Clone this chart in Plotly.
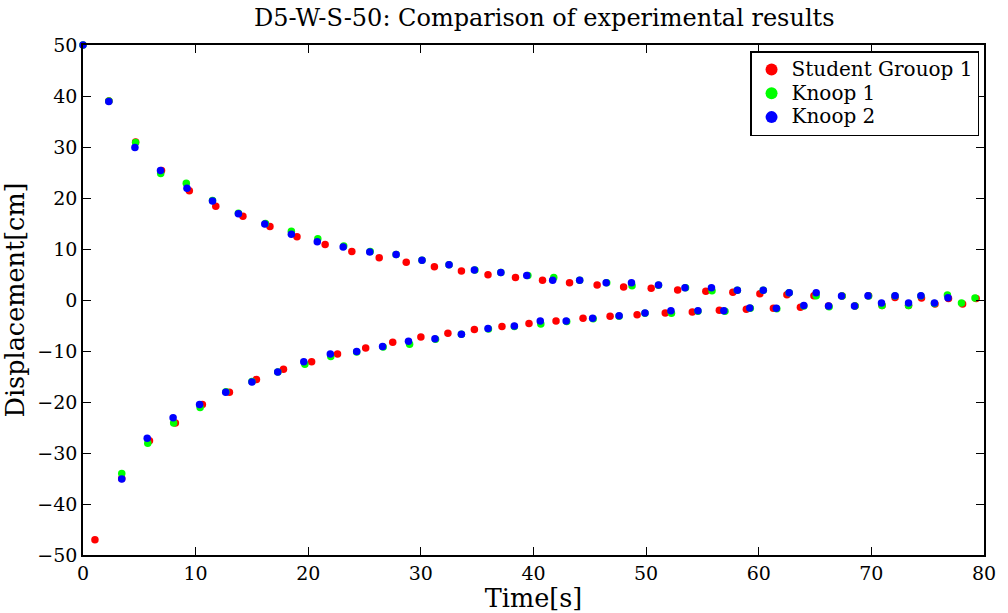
import plotly.graph_objects as go

# Student Grouop 1 (red)
red_t = [1.06, 2.3, 3.44, 4.67, 5.9, 6.97, 8.2, 9.44, 10.6, 11.79, 13.0, 14.2, 15.4, 16.6, 17.8, 19.0,
         20.3, 21.5, 22.6, 23.87, 25.1, 26.3, 27.5, 28.7, 30.0, 31.2, 32.4, 33.6, 34.75, 35.96, 37.2,
         38.4, 39.6, 40.8, 42.0, 43.2, 44.4, 45.65, 46.8, 48.0, 49.2, 50.45, 51.7, 52.8, 54.1, 55.3,
         56.5, 57.7, 58.9, 60.1, 61.3, 62.5, 63.7, 64.9, 66.2, 67.4, 68.55, 69.75, 70.95, 72.1, 73.3,
         74.45, 75.65, 76.85, 78.1, 79.3]
red_y = [-47, 39, -35, 31, -27.6, 25.4, -24.1, 21.4, -20.5, 18.4, -18.1, 16.4, -15.6, 14.4, -13.6, 12.4,
         -12.1, 10.9, -10.6, 9.5, -9.4, 8.3, -8.3, 7.4, -7.25, 6.5, -6.5, 5.7, -5.8, 4.97, -5.2,
         4.4, -4.6, 3.85, -4.1, 3.4, -3.6, 2.94, -3.2, 2.55, -2.9, 2.3, -2.55, 1.96, -2.35, 1.7,
         -2.0, 1.5, -1.8, 1.24, -1.63, 1.04, -1.43, 0.85, -1.2, 0.8, -1.2, 0.85, -1.1, 0.5, -1.1,
         0.4, -0.8, 0.3, -0.8, 0.3]

# Knoop 1 (green)
green_t = [0, 2.3, 3.44, 4.67, 5.75, 6.9, 8.05, 9.17, 10.4, 11.5, 12.7, 13.8, 15.0, 16.2, 17.3, 18.5,
           19.7, 20.85, 22.0, 23.15, 24.3, 25.5, 26.65, 27.8, 29.0, 30.1, 31.3, 32.5, 33.6, 34.8, 36.0,
           37.1, 38.3, 39.5, 40.65, 41.8, 42.95, 44.1, 45.3, 46.5, 47.6, 48.75, 49.9, 51.1, 52.25, 53.5,
           54.6, 55.85, 57.0, 58.1, 59.25, 60.4, 61.6, 62.7, 64.0, 65.1, 66.25, 67.4, 68.55, 69.75,
           70.95, 72.1, 73.3, 74.4, 75.6, 76.75, 78.0, 79.2]
green_y = [50, 39, -34, 30.9, -28.1, 24.8, -24.1, 22.9, -21.1, 19.5, -18, 17, -16, 15, -14.1, 13.5,
           -12.6, 12.0, -11.1, 10.6, -10.2, 9.5, -9.2, 8.9, -8.7, 7.8, -7.7, 6.9, -6.7, 5.9, -5.7,
           5.4, -5.2, 4.8, -4.7, 4.4, -4.2, 3.85, -3.7, 3.4, -3.2, 2.8, -2.6, 2.9, -2.6, 2.4,
           -2.2, 1.8, -2.2, 1.9, -1.6, 1.9, -1.7, 1.4, -1.2, 0.85, -1.3, 0.8, -1.2, 0.8,
           -1.1, 0.8, -1.1, 0.8, -0.7, 1.0, -0.6, 0.4]

# Knoop 2 (blue)
blue_t = [0, 2.29, 3.44, 4.61, 5.7, 6.88, 8.0, 9.23, 10.35, 11.5, 12.67, 13.8, 15.0, 16.14, 17.29, 18.5,
          19.6, 20.8, 21.96, 23.1, 24.3, 25.46, 26.6, 27.8, 28.9, 30.1, 31.25, 32.5, 33.6, 34.75, 35.96,
          37.1, 38.3, 39.4, 40.6, 41.7, 42.9, 44.1, 45.25, 46.45, 47.6, 48.7, 49.9, 51.1, 52.2, 53.45,
          54.6, 55.8, 56.9, 58.1, 59.2, 60.4, 61.56, 62.7, 64.0, 65.1, 66.2, 67.35, 68.5, 69.7,
          70.9, 72.1, 73.3, 74.4, 75.6, 76.8]
blue_y = [50, 38.9, -35.1, 29.9, -27.1, 25.4, -23.1, 21.9, -20.5, 19.4, -18.1, 16.9, -16.1, 14.9, -14.1, 12.9,
          -12.1, 11.4, -10.6, 10.4, -10.1, 9.4, -9.1, 8.9, -8.1, 7.8, -7.6, 6.9, -6.7, 5.9, -5.6,
          5.4, -5.1, 4.8, -4.1, 3.85, -4.1, 3.85, -3.6, 3.4, -3.1, 3.4, -2.55, 2.94, -2.1, 2.4,
          -2.1, 2.4, -2.1, 1.9, -1.57, 1.9, -1.63, 1.4, -1.1, 1.4, -1.2, 0.8, -1.2, 0.85,
          -0.6, 0.85, -0.6, 0.85, -0.6, 0.46]

x_ticks = [0, 10, 20, 30, 40, 50, 60, 70, 80]
y_ticks = [-50, -40, -30, -20, -10, 0, 10, 20, 30, 40, 50]

TICK_FONT = "DejaVu Serif"
TEXT_FONT = "DejaVu Serif"

fig = go.Figure()
for name, t, y, c in [("Student Grouop 1", red_t, red_y, "#ff0000"),
                      ("Knoop 1", green_t, green_y, "#00ff00"),
                      ("Knoop 2", blue_t, blue_y, "#0000ff")]:
    fig.add_trace(go.Scatter(x=t, y=y, mode="markers",
                             name='<span style="font-size:20px">' + name + '</span>',
                             marker=dict(color=c, size=7.5, line=dict(width=0)),
                             cliponaxis=False))

axis_common = dict(showgrid=False, zeroline=False, showline=True, linecolor="black", linewidth=1.5,
                   mirror="ticks", ticks="inside", ticklen=8, tickwidth=1, tickcolor="black",
                   tickfont=dict(family=TICK_FONT, size=19, color="black"))

fig.update_layout(
    width=1008, height=613,
    margin=dict(l=83, r=18, t=45, b=58),
    paper_bgcolor="white", plot_bgcolor="white",
    font=dict(family=TEXT_FONT, color="black"),
    title=dict(text="D5-W-S-50: Comparison of experimental results", x=0.54, xanchor="center",
               y=0.972, yanchor="middle", font=dict(family=TEXT_FONT, size=24, color="black")),
    xaxis=dict(range=[0, 80], tickvals=x_ticks, title=dict(text="Time[s]", standoff=0,
               font=dict(family=TEXT_FONT, size=25.5, color="black")), **axis_common),
    yaxis=dict(range=[-50, 50], tickvals=y_ticks, title=dict(text="Displacement[cm]", standoff=6,
               font=dict(family=TEXT_FONT, size=25.5, color="black")), **axis_common),
    legend=dict(x=0.9945, y=0.988, xanchor="right", yanchor="top", bgcolor="white",
                bordercolor="black", borderwidth=1.5, font=dict(family=TEXT_FONT, size=16, color="black"),
                tracegroupgap=0, itemsizing="constant"),
    showlegend=True,
)

fig.write_html("out.html")
